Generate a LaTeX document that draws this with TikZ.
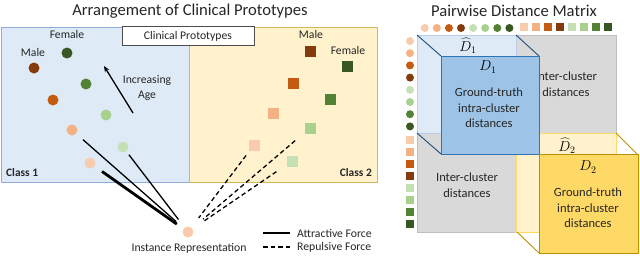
\documentclass[tikz,border=0pt]{standalone}
\usepackage{fontspec}
\setmainfont{Carlito}
\usetikzlibrary{arrows.meta}
\definecolor{cpeach}{HTML}{F8CBAD}
\definecolor{csalmon}{HTML}{F4B183}
\definecolor{corange}{HTML}{C55A11}
\definecolor{cbrown}{HTML}{843C0C}
\definecolor{gvlight}{HTML}{C5E0B4}
\definecolor{glight}{HTML}{A9D18E}
\definecolor{gmid}{HTML}{548235}
\definecolor{gdark}{HTML}{385723}
\definecolor{bluefill}{HTML}{DEEBF7}
\definecolor{blueedge}{HTML}{8FAADC}
\definecolor{yelfill}{HTML}{FFF2CC}
\definecolor{yeledge}{HTML}{D6B656}
\definecolor{grayfill}{HTML}{D9D9D9}
\definecolor{grayedge}{HTML}{BFBFBF}
\definecolor{dfill}{HTML}{9DC3E6}
\definecolor{dedge}{HTML}{2E75B6}
\definecolor{ddiag}{HTML}{1F4E79}
\definecolor{gfill}{HTML}{FFD966}
\definecolor{gedge}{HTML}{BF9000}
\definecolor{txt}{HTML}{262626}
\tikzset{
  dot/.style={circle,inner sep=0pt,minimum size=11pt},
  sq/.style={rectangle,inner sep=0pt,minimum size=11pt},
  mdot/.style={circle,inner sep=0pt,minimum size=8pt},
  msq/.style={rectangle,inner sep=0pt,minimum size=8pt},
  lbl/.style={font=\fontsize{11.7}{14}\selectfont,text=txt,inner sep=0pt},
  mtxt/.style={font=\fontsize{12.5}{15.5}\selectfont,text=txt,align=center,inner sep=0pt},
  ttl/.style={font=\fontsize{16.6}{19}\selectfont,text=txt,inner sep=0pt},
  dlab/.style={inner sep=0pt,font=\fontsize{14}{16}\selectfont},
  attract/.style={line width=1.3pt,black},
  repulse/.style={line width=1.3pt,black,dash pattern=on 4.5pt off 3pt},
}
\begin{document}
\begin{tikzpicture}[x=1pt,y=-1pt]
\useasboundingbox (0,0) rectangle (640,255);
% titles
\node[ttl] (t1) at (190,11) {Arrangement of Clinical Prototypes};
\node[ttl] (t2) at (514,11) {Pairwise Distance Matrix};
% panels
\draw[fill=bluefill,draw=blueedge,line width=0.9pt] (1,27) rectangle (189,182);
\draw[fill=yelfill,draw=yeledge,line width=0.9pt] (189,27) rectangle (377,182);
\node[draw=black!70,fill=white,line width=0.6pt,minimum width=132pt,minimum height=19pt,inner sep=0pt,font=\fontsize{11.7}{13}\selectfont,text=txt] (cp) at (188,36) {Clinical Prototypes};
% class 1
\node[lbl] (lmale) at (33,52) {Male};
\node[lbl] (lfemale) at (67,34) {Female};
\node[dot,fill=gdark] (f4) at (67,53) {};
\node[dot,fill=cbrown] (m4) at (34,68) {};
\node[dot,fill=gmid] (f3) at (86,84) {};
\node[dot,fill=corange] (m3) at (53,100) {};
\node[dot,fill=glight] (f2) at (106,115) {};
\node[dot,fill=csalmon] (m2) at (72,130) {};
\node[dot,fill=gvlight] (f1) at (123,147) {};
\node[dot,fill=cpeach] (m1) at (90,163) {};
\coordinate (agetail) at (133,113);
\coordinate (agehead) at (104,66);
\draw[line width=1.3pt,-{Stealth[length=6pt,width=5pt]}] (agetail) -- (agehead);
\node[lbl,align=center,font=\fontsize{11.7}{14.5}\selectfont] (age) at (147,88) {Increasing\\Age};
\node[lbl,font=\fontsize{11.4}{13}\selectfont\bfseries,anchor=west] (c1) at (6,173) {Class 1};
% class 2
\node[lbl] (smale) at (311,34) {Male};
\node[lbl] (sfemale) at (348,50) {Female};
\node[sq,fill=cbrown] (sm4) at (310,51) {};
\node[sq,fill=gdark] (sf4) at (347,66) {};
\node[sq,fill=corange] (sm3) at (293,83) {};
\node[sq,fill=gmid] (sf3) at (330,99) {};
\node[sq,fill=csalmon] (sm2) at (273,113) {};
\node[sq,fill=glight] (sf2) at (310,128) {};
\node[sq,fill=cpeach] (sm1) at (254,145) {};
\node[sq,fill=gvlight] (sf1) at (292,161) {};
\node[lbl,font=\fontsize{11.4}{13}\selectfont\bfseries,anchor=east] (c2) at (372,173) {Class 2};
% instance
\node[dot,fill=cpeach] (inst) at (188,232) {};
\node[lbl] (instl) at (189,248) {Instance Representation};
\draw[line width=2.8pt,shorten <=9pt,shorten >=8pt] (m1) -- (inst);
\draw[attract,shorten <=9pt,shorten >=10pt] (m2) -- (inst);
\draw[attract,shorten <=4pt,shorten >=10pt] (f1) -- (inst);
\draw[repulse,shorten <=6pt,shorten >=12pt] (sm1) -- (inst);
\draw[repulse,shorten <=12pt,shorten >=14pt] (sf2) -- (inst);
\draw[repulse,shorten <=12pt,shorten >=12pt] (sf1) -- (inst);
% legend
\coordinate (la1) at (263,233);
\coordinate (la2) at (290,233);
\coordinate (lr1) at (263,247);
\coordinate (lr2) at (290,247);
\draw[attract] (la1) -- (la2);
\draw[repulse] (lr1) -- (lr2);
\node[lbl,anchor=west] (lat) at (297,233) {Attractive Force};
\node[lbl,anchor=west] (lrt) at (297,247) {Repulsive Force};
% matrix
\draw[fill=grayfill,draw=grayedge,line width=0.8pt] (417,35) rectangle (616,232);
\node[mtxt] (ic1) at (566,84) {Inter-cluster\\distances};
\node[mtxt] (ic2) at (467,185) {Inter-cluster\\distances};
\draw[fill=bluefill,draw=blueedge!60,line width=0.6pt] (417,35) rectangle (516,133);
\draw[fill=yelfill,draw=gfill,line width=0.6pt] (516,133) rectangle (616,232);
\node[dlab] (dh1) at (468,46) {$\widehat{D}_1$};
\node[dlab] (dh2) at (567,146) {$\widehat{D}_2$};
\draw[ddiag,line width=0.9pt] (417,35) -- (441,56) (516,35) -- (539,56) (417,133) -- (441,154);
\draw[fill=dfill,draw=dedge,line width=0.9pt] (441,56) rectangle (539,154);
\node[dlab] (d1) at (488,67) {$D_1$};
\node[mtxt] (gt1) at (489,108) {Ground-truth\\intra-cluster\\distances};
\draw[gedge,line width=0.9pt] (616,133) -- (638,155) (517,232) -- (539,253);
\draw[fill=gfill,draw=gedge,line width=0.9pt] (539,154) rectangle (638.5,253.5);
\node[dlab] (d2) at (588,167) {$D_2$};
\node[mtxt] (gt2) at (588,208) {Ground-truth\\intra-cluster\\distances};
% matrix markers
\foreach \c [count=\i] in {cpeach,csalmon,corange,cbrown,gvlight,glight,gmid,gdark}{
  \node[mdot,fill=\c] (tc\i) at ({412.6+12.1*\i},28) {};
  \node[msq,fill=\c] (ts\i) at ({512+12*\i},27) {};
  \node[mdot,fill=\c] (lc\i) at (410,{28.8+12.2*\i}) {};
  \node[msq,fill=\c] (ls\i) at (410,{128+12*\i}) {};
}
\end{tikzpicture}
\end{document}
